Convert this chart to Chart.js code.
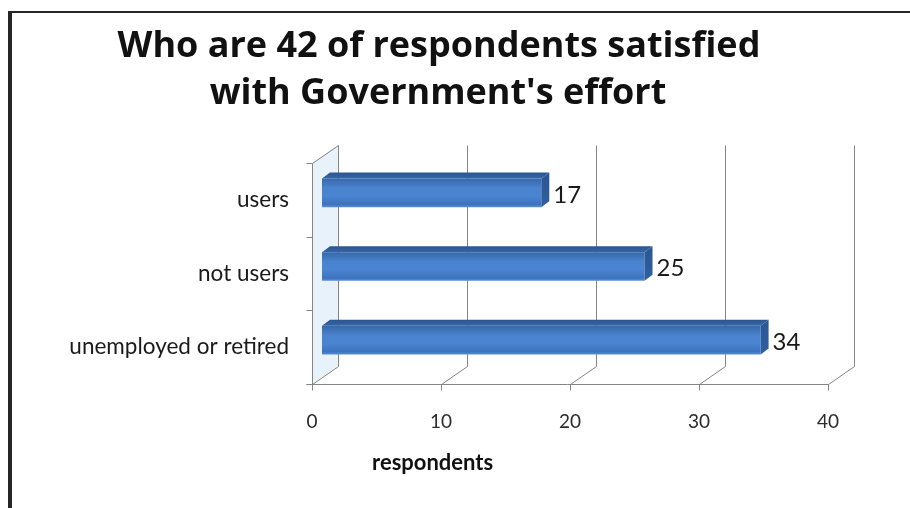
<!DOCTYPE html>
<html>
<head>
<meta charset="utf-8">
<script src="https://cdn.jsdelivr.net/npm/chart.js@4/dist/chart.umd.min.js"></script>
<style>
  html, body { margin: 0; padding: 0; background: #ffffff; }
  #chart { display: block; }
</style>
</head>
<body>
<canvas id="chart" width="910" height="508"></canvas>
<script>
// Survey breakdown of the satisfied respondents
const categories = ['users', 'not users', 'unemployed or retired'];
const respondents = [17, 25, 34];
const xTicks = [0, 10, 20, 30, 40];
const titleLines = ['Who are 42 of respondents satisfied', "with Government's effort"];
const xAxisTitle = 'respondents';

// Oblique 3D projection: offsets of the front floor edge, the back wall
// and the bar depth, relative to the plane the bars' front faces sit in.
const FRONT = { dx: -10, dy: 7 };
const BACK = { dx: 16, dy: -11 };
const BAR_DEPTH = { dx: 8, dy: -6 };
const BAR_FRACTION = 0.39;
const LINE_COLOR = '#858585';

function frontFill(ctx) {
  const chart = ctx.chart;
  const y = chart.scales && chart.scales.y;
  if (!y || !isFinite(y.height) || ctx.dataIndex === undefined) return '#4479c0';
  const cy = y.getPixelForValue(ctx.dataIndex);
  const half = (y.height / categories.length) * BAR_FRACTION / 2;
  const g = chart.ctx.createLinearGradient(0, cy - half, 0, cy + half);
  g.addColorStop(0, '#3767a8');
  g.addColorStop(0.35, '#4a84d0');
  g.addColorStop(0.6, '#4b85d2');
  g.addColorStop(0.9, '#3d73bd');
  g.addColorStop(1, '#5a8fd6');
  return g;
}

const frame3d = {
  id: 'frame3d',
  beforeDraw(chart) {
    const c = chart.ctx;
    c.save();
    c.fillStyle = '#ffffff';
    c.fillRect(0, 0, chart.width, chart.height);
    // outer frame (top and left edges)
    c.fillStyle = '#262626';
    c.fillRect(8, 11, chart.width - 8, 2);
    c.fillRect(8, 11, 4, chart.height - 11);
    c.restore();
  },
  beforeDatasetsDraw(chart) {
    const c = chart.ctx;
    const xs = chart.scales.x;
    const area = chart.chartArea;
    const top = area.top, bottom = area.bottom;
    const x0 = xs.getPixelForValue(xTicks[0]);
    const band = (bottom - top) / categories.length;
    c.save();
    // side wall tint
    c.fillStyle = 'rgba(214,232,248,0.55)';
    c.beginPath();
    c.moveTo(x0 + FRONT.dx, top + FRONT.dy);
    c.lineTo(x0 + BACK.dx, top + BACK.dy);
    c.lineTo(x0 + BACK.dx, bottom + BACK.dy);
    c.lineTo(x0 + FRONT.dx, bottom + FRONT.dy);
    c.closePath();
    c.fill();

    c.strokeStyle = LINE_COLOR;
    c.lineWidth = 1;
    const line = (ax, ay, bx, by) => {
      c.beginPath();
      c.moveTo(Math.round(ax) + 0.5, Math.round(ay) + 0.5);
      c.lineTo(Math.round(bx) + 0.5, Math.round(by) + 0.5);
      c.stroke();
    };
    // back wall gridlines and floor diagonals
    xTicks.forEach(v => {
      const px = xs.getPixelForValue(v);
      line(px + BACK.dx, top + BACK.dy, px + BACK.dx, bottom + BACK.dy);
      line(px + FRONT.dx, bottom + FRONT.dy, px + BACK.dx, bottom + BACK.dy);
      line(px + FRONT.dx, bottom + FRONT.dy, px + FRONT.dx, bottom + FRONT.dy + 6);
    });
    // front floor edge
    const xEnd = xs.getPixelForValue(xTicks[xTicks.length - 1]);
    line(x0 + FRONT.dx - 6, bottom + FRONT.dy, xEnd + FRONT.dx, bottom + FRONT.dy);
    // side wall edges
    line(x0 + FRONT.dx, top + FRONT.dy, x0 + FRONT.dx, bottom + FRONT.dy);
    line(x0 + FRONT.dx, top + FRONT.dy, x0 + BACK.dx, top + BACK.dy);
    // category tick marks
    for (let i = 0; i <= categories.length; i++) {
      const py = top + FRONT.dy + i * band;
      line(x0 + FRONT.dx - 6, py, x0 + FRONT.dx, py);
    }
    c.restore();
  },
  afterDatasetsDraw(chart) {
    const c = chart.ctx;
    const meta = chart.getDatasetMeta(0);
    const values = chart.data.datasets[0].data;
    c.save();
    meta.data.forEach((el, i) => {
      const p = el.getProps(['x', 'y', 'base', 'height'], true);
      const yT = p.y - p.height / 2, yB = p.y + p.height / 2;
      // top face
      const tg = c.createLinearGradient(0, yT + BAR_DEPTH.dy, 0, yT);
      tg.addColorStop(0, '#2a5690');
      tg.addColorStop(1, '#3565a6');
      c.fillStyle = tg;
      c.beginPath();
      c.moveTo(p.base, yT);
      c.lineTo(p.base + BAR_DEPTH.dx, yT + BAR_DEPTH.dy);
      c.lineTo(p.x + BAR_DEPTH.dx, yT + BAR_DEPTH.dy);
      c.lineTo(p.x, yT);
      c.closePath();
      c.fill();
      // end face
      const sg = c.createLinearGradient(0, yT, 0, yB);
      sg.addColorStop(0, '#2b5895');
      sg.addColorStop(1, '#2f5f9f');
      c.fillStyle = sg;
      c.beginPath();
      c.moveTo(p.x, yT);
      c.lineTo(p.x + BAR_DEPTH.dx, yT + BAR_DEPTH.dy);
      c.lineTo(p.x + BAR_DEPTH.dx, yB + BAR_DEPTH.dy);
      c.lineTo(p.x, yB);
      c.closePath();
      c.fill();
      // value label
      c.fillStyle = '#1a1a1a';
      c.font = '24px Lato';
      c.textAlign = 'left';
      c.textBaseline = 'middle';
      c.fillText(String(values[i]), p.x + 12, p.y + 2);
    });
    c.restore();
  },
  afterDraw(chart) {
    const c = chart.ctx;
    c.save();
    c.fillStyle = '#111111';
    c.textAlign = 'center';
    c.textBaseline = 'alphabetic';
    c.font = 'bold 36px "Open Sans"';
    c.fillText(titleLines[0], 439, 57);
    c.fillText(titleLines[1], 438, 104);
    c.textAlign = 'left';
    c.font = 'bold 22px Lato';
    c.fillText(xAxisTitle, 372, 470);
    c.restore();
  }
};

new Chart(document.getElementById('chart'), {
  type: 'bar',
  data: {
    labels: categories,
    datasets: [{
      data: respondents,
      backgroundColor: frontFill,
      borderWidth: 0,
      categoryPercentage: 1,
      barPercentage: BAR_FRACTION
    }]
  },
  options: {
    indexAxis: 'y',
    responsive: false,
    animation: false,
    devicePixelRatio: 1,
    layout: { padding: { top: 156, right: 72, left: 0, bottom: 0 } },
    plugins: { legend: { display: false }, tooltip: { enabled: false }, title: { display: false } },
    scales: {
      x: {
        min: 0,
        max: 40,
        afterBuildTicks: s => { s.ticks = xTicks.map(v => ({ value: v })); },
        afterFit: s => { s.height = 131; },
        grid: { display: false, drawTicks: false },
        border: { display: false },
        ticks: { color: '#2b2b2b', font: { family: 'Lato', size: 19 }, padding: 33, labelOffset: FRONT.dx, maxRotation: 0 }
      },
      y: {
        afterFit: s => { s.width = 322; },
        grid: { display: false, drawTicks: false },
        border: { display: false },
        ticks: { color: '#1a1a1a', font: { family: 'Lato', size: 22.5 }, padding: 33, labelOffset: FRONT.dy }
      }
    }
  },
  plugins: [frame3d]
});
</script>
</body>
</html>
